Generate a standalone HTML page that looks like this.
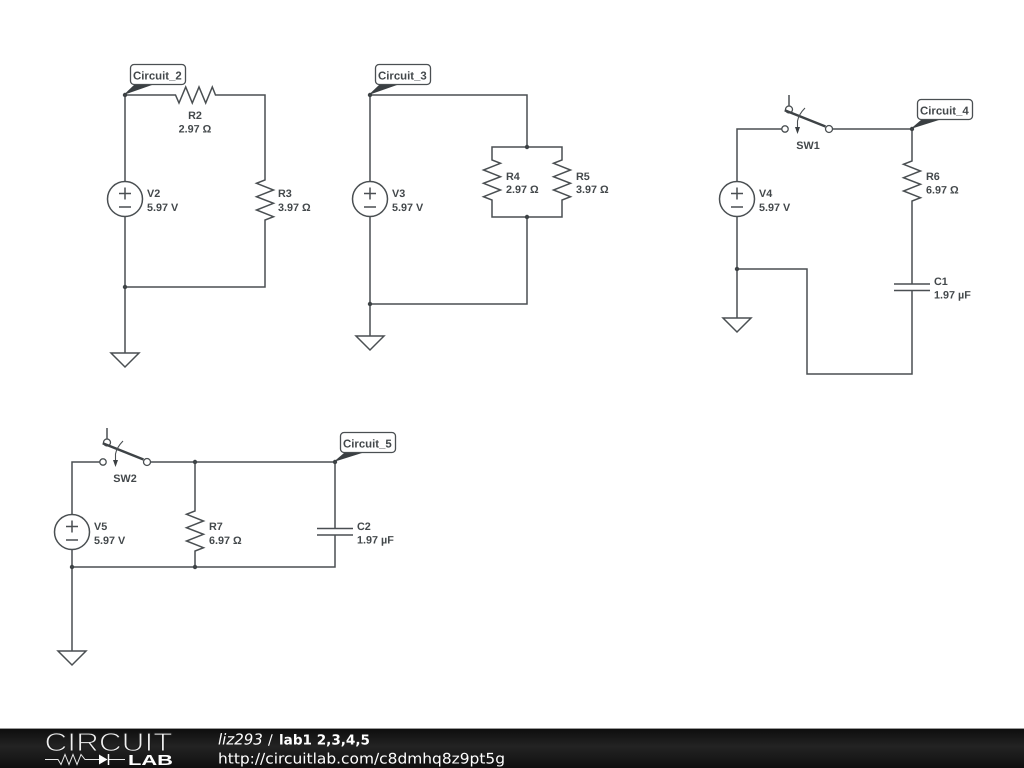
<!DOCTYPE html>
<html><head><meta charset="utf-8"><title>lab1 2,3,4,5</title>
<style>html,body{margin:0;padding:0;background:#fff;width:1024px;height:768px;overflow:hidden}svg{display:block;text-rendering:geometricPrecision}
.w{fill:none;stroke:#4a4f52;stroke-width:1.5;stroke-linejoin:miter}
.t{font:bold 10.8px "Liberation Sans",sans-serif;fill:#43484b}
.l{font:bold 11.4px "Liberation Sans",sans-serif;fill:#43484b}
.lb{fill:#fff;stroke:#4a4f52;stroke-width:1.3}
.d{fill:#3e4346}.f{fill:#3a3f42}
</style></head><body>
<svg width="1024" height="768" viewBox="0 0 1024 768" xmlns="http://www.w3.org/2000/svg">
<defs>
<linearGradient id="g" x1="0" y1="0" x2="0" y2="1"><stop offset="0" stop-color="#0e0e0e"/><stop offset=".45" stop-color="#232323"/><stop offset="1" stop-color="#0f0f0f"/></linearGradient>
</defs>
<rect width="1024" height="768" fill="#fff"/>

<!-- Circuit 2 -->
<path class="w" d="M125 181V95H175.500L179 103 185.700 87 192.300 103 199 87 205.700 103 212.300 87 215.500 95H265V180L256.500 183.300 273.500 190 256.500 196.700 273.500 203.300 256.500 210 273.500 216.700 265 220V287H125V217M125 217V353"/>
<circle class="w" cx="125" cy="199" r="17.500"/>
<path class="w" d="M119 193.500h12M125 187.500v12M119 207h12"/>
<path class="w" d="M111 353H139L125 367Z"/>
<circle class="d" cx="125" cy="95" r="2.200"/><circle class="d" cx="125" cy="287" r="2.200"/>
<path class="f" d="M123.500 95L134 85H152Z"/>
<rect class="lb" x="130.500" y="64.500" width="55" height="20" rx="3.500"/>
<text class="l" x="133" y="79.500">Circuit_2</text>
<text class="t" x="195" y="119" text-anchor="middle">R2</text>
<text class="t" x="195" y="132.500" text-anchor="middle">2.97 Ω</text>
<text class="t" x="147" y="197">V2</text><text class="t" x="147" y="211">5.97 V</text>
<text class="t" x="278" y="197">R3</text><text class="t" x="278" y="211">3.97 Ω</text>

<!-- Circuit 3 -->
<path class="w" d="M370 181V95H527V147M370 217V336M527 217V304H370"/>
<path class="w" d="M492 160V147H562V160L553.500 163.300 570.500 170 553.500 176.700 570.500 183.300 553.500 190 570.500 196.700 562 200V217H492V200L483.500 196.700 500.500 190 483.500 183.300 500.500 176.700 483.500 170 500.500 163.300 492 160Z"/>
<circle class="w" cx="370" cy="199" r="17.500"/>
<path class="w" d="M364 193.500h12M370 187.500v12M364 207h12"/>
<path class="w" d="M356 336H384L370 350Z"/>
<circle class="d" cx="370" cy="95" r="2.200"/><circle class="d" cx="527" cy="147" r="2.200"/><circle class="d" cx="527" cy="217" r="2.200"/><circle class="d" cx="370" cy="304" r="2.200"/>
<path class="f" d="M368.500 95L379 85H397Z"/>
<rect class="lb" x="375.500" y="64.500" width="55" height="20" rx="3.500"/>
<text class="l" x="378" y="79.500">Circuit_3</text>
<text class="t" x="392" y="197">V3</text><text class="t" x="392" y="211">5.97 V</text>
<text class="t" x="506" y="180">R4</text><text class="t" x="506" y="193">2.97 Ω</text>
<text class="t" x="576" y="180">R5</text><text class="t" x="576" y="193">3.97 Ω</text>

<!-- Circuit 4 -->
<path class="w" d="M737 181V129H781.500M832.500 129H912V161L903.500 164.300 920.500 171 903.500 177.700 920.500 184.300 903.500 191 920.500 197.700 912 201V284M912 290.500V374H807V269H737M737 217V318"/>
<circle class="w" cx="737" cy="199" r="17.500"/>
<path class="w" d="M731 193.500h12M737 187.500v12M731 207h12"/>
<path class="w" d="M723 318H751L737 332Z"/>
<path class="w" d="M894 284H930M894 290.500H930"/>
<circle class="d" cx="912" cy="129" r="2.200"/><circle class="d" cx="737" cy="269" r="2.200"/>
<circle cx="785" cy="129" r="3.200" fill="#fff" stroke="#4a4f52" stroke-width="1.300"/>
<circle cx="829" cy="129" r="3.500" fill="#fff" stroke="#4a4f52" stroke-width="1.300"/>
<circle cx="789" cy="109.500" r="3.500" fill="#fff" stroke="#4a4f52" stroke-width="1.300"/>
<path d="M784.700 110.300L825.500 126.500" stroke="#3e4346" stroke-width="2.400" fill="none"/>
<path class="w" d="M789 95V106"/>
<path d="M805 108C801 112 798.500 116 797.500 121V129" fill="none" stroke="#4a4f52" stroke-width="1.100"/>
<path class="f" d="M795 127H800L797.500 134Z"/>
<path class="f" d="M910.500 129L921 120H939Z"/>
<rect class="lb" x="917.500" y="99.500" width="55" height="20" rx="3.500"/>
<text class="l" x="920" y="114.500">Circuit_4</text>
<text class="t" x="808" y="149" text-anchor="middle">SW1</text>
<text class="t" x="759" y="197">V4</text><text class="t" x="759" y="211">5.97 V</text>
<text class="t" x="926" y="180">R6</text><text class="t" x="926" y="193.500">6.97 Ω</text>
<text class="t" x="934" y="285">C1</text><text class="t" x="934" y="298.500">1.97 µF</text>

<!-- Circuit 5 -->
<path class="w" d="M72 514V462H99.500M150.500 462H335V528.500M335 535V567H72M72 550V651M195 462V511L186.500 514.300 203.500 521 186.500 527.700 203.500 534.300 186.500 541 203.500 547.700 195 551V567"/>
<circle class="w" cx="72" cy="532" r="17.500"/>
<path class="w" d="M66 526.500h12M72 520.500v12M66 540h12"/>
<path class="w" d="M58 651H86L72 665Z"/>
<path class="w" d="M317 528.500H353M317 535H353"/>
<circle class="d" cx="195" cy="462" r="2.200"/><circle class="d" cx="335" cy="462" r="2.200"/><circle class="d" cx="72" cy="567" r="2.200"/><circle class="d" cx="195" cy="567" r="2.200"/>
<circle cx="103" cy="462" r="3.200" fill="#fff" stroke="#4a4f52" stroke-width="1.300"/>
<circle cx="147" cy="462" r="3.500" fill="#fff" stroke="#4a4f52" stroke-width="1.300"/>
<circle cx="107" cy="442.500" r="3.500" fill="#fff" stroke="#4a4f52" stroke-width="1.300"/>
<path d="M102.700 443.300L143.500 459.500" stroke="#3e4346" stroke-width="2.400" fill="none"/>
<path class="w" d="M107 428V439"/>
<path d="M123 441C119 445 116.500 449 115.500 454V462" fill="none" stroke="#4a4f52" stroke-width="1.100"/>
<path class="f" d="M113 460H118L115.500 467Z"/>
<path class="f" d="M333.500 462L344 453H362Z"/>
<rect class="lb" x="340.500" y="432.500" width="55" height="20" rx="3.500"/>
<text class="l" x="343" y="447.500">Circuit_5</text>
<text class="t" x="125" y="482" text-anchor="middle">SW2</text>
<text class="t" x="94" y="530">V5</text><text class="t" x="94" y="544">5.97 V</text>
<text class="t" x="209" y="530">R7</text><text class="t" x="209" y="544">6.97 Ω</text>
<text class="t" x="357" y="530">C2</text><text class="t" x="357" y="543.500">1.97 µF</text>

<!-- Footer -->
<rect x="0" y="729" width="1024" height="39" fill="url(#g)"/>
<rect x="0" y="728" width="1024" height="1" fill="#9a9a9a"/>
<text x="44.500" y="751" font-family="'Liberation Sans',sans-serif" font-size="26" fill="#f0f0f0" stroke="#1c1c1c" stroke-width="1" textLength="128" lengthAdjust="spacingAndGlyphs">CIRCUIT</text>
<path d="M45 759.500H58L61 764.500 65 754.500 69 764.500 73 754.500 77 764.500 81 754.500 85 759.500H100M108 759.500H125" fill="none" stroke="#e8e8e8" stroke-width="1"/>
<path d="M99 754.500V764.500L107.500 759.500Z" fill="#fff"/><path d="M108.500 754V765" stroke="#fff" stroke-width="1.500"/>
<text x="128" y="765" font-family="'Liberation Sans',sans-serif" font-weight="bold" font-size="14.500" fill="#fff" textLength="45" lengthAdjust="spacingAndGlyphs">LAB</text>
<text x="218" y="744.500" font-family="'DejaVu Sans',sans-serif" font-size="15" font-style="italic" fill="#fff">liz293</text>
<text x="268" y="744.500" font-family="'DejaVu Sans',sans-serif" font-size="14" fill="#fff">/</text>
<text x="279" y="744.500" font-family="'DejaVu Sans',sans-serif" font-size="13.800" font-weight="bold" fill="#fff" textLength="91" lengthAdjust="spacingAndGlyphs">lab1 2,3,4,5</text>
<text x="218" y="763.500" font-family="'DejaVu Sans',sans-serif" font-size="14.500" fill="#fff" textLength="287" lengthAdjust="spacingAndGlyphs">http://circuitlab.com/c8dmhq8z9pt5g</text>
</svg>
</body></html>
